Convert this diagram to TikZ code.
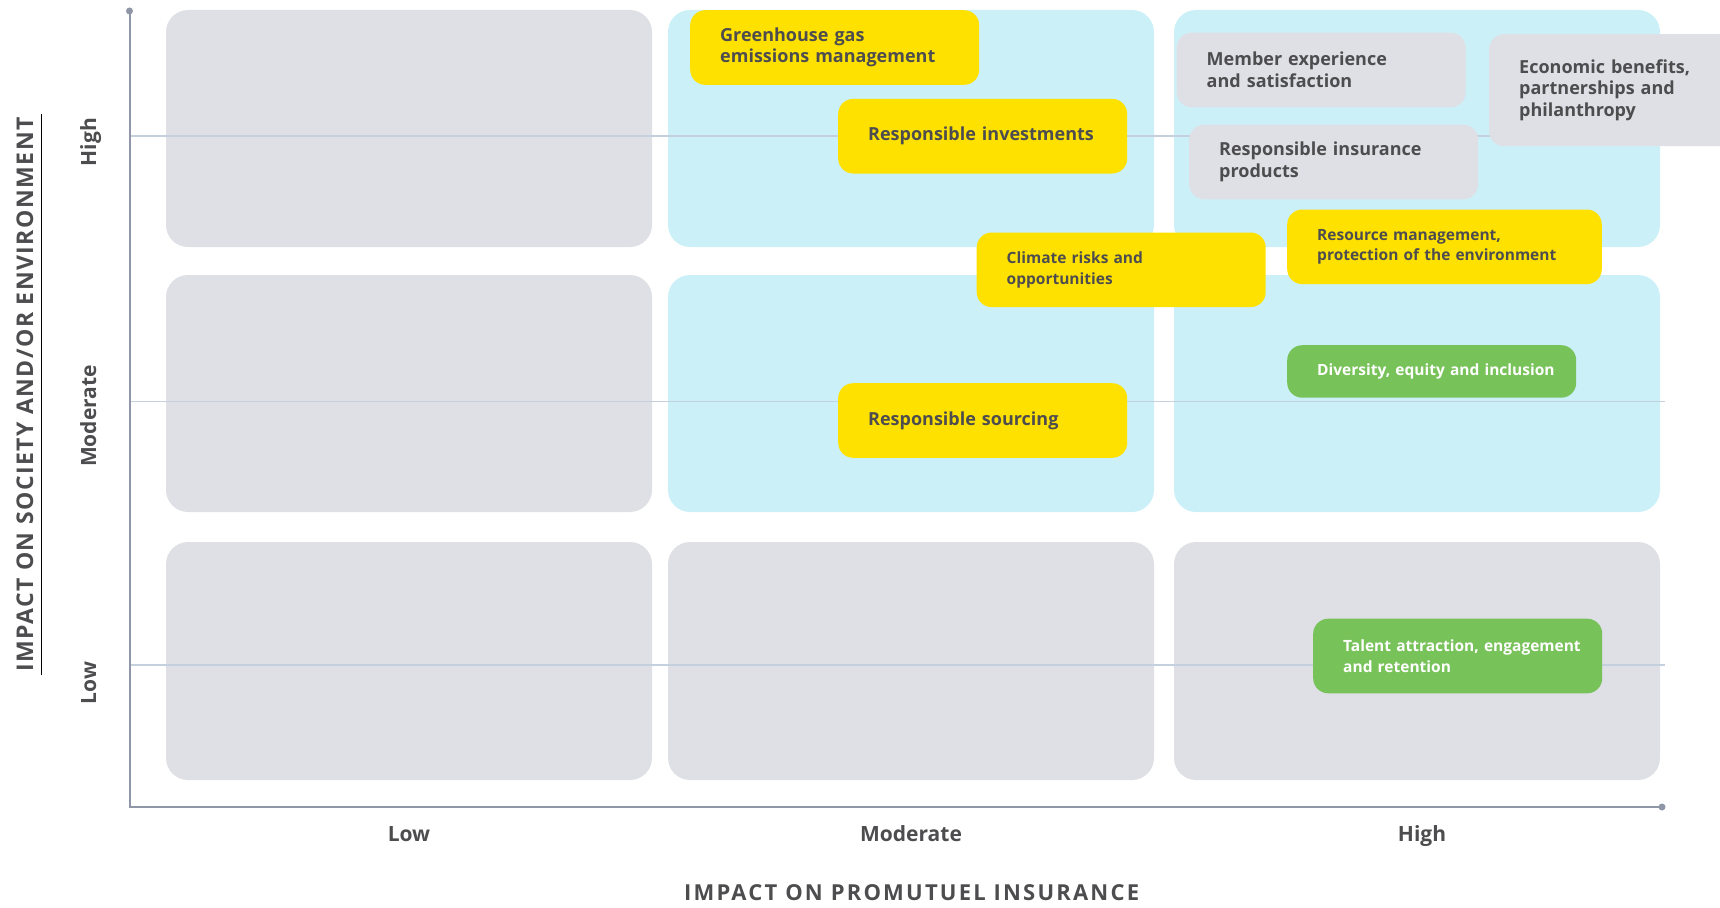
\documentclass[tikz,border=0pt]{standalone}
\usepackage{fontspec}
\setmainfont{Open Sans}
\newfontfamily\xtitlefont[LetterSpace=10]{Open Sans}
\newfontfamily\ytitlefont[LetterSpace=6.5]{Open Sans}
\usetikzlibrary{positioning}

\definecolor{cellgray}{RGB}{223,224,229}
\definecolor{cellcyan}{RGB}{204,240,248}
\definecolor{tagyellow}{RGB}{255,225,0}
\definecolor{taggreen}{RGB}{120,194,90}
\definecolor{txtgray}{RGB}{77,77,79}
\definecolor{axisgray}{RGB}{142,150,168}
\definecolor{gridblue}{RGB}{197,208,222}

\begin{document}
\begin{tikzpicture}[x=1pt, y=-1pt,
	cell/.style={rounded corners=22},
	tag/.style={rounded corners=15, inner xsep=30, inner ysep=0, minimum height=74.6, text width=229, align=left, anchor=north west, text=txtgray, font=\fontsize{18}{21.5}\selectfont\bfseries},
	small/.style={font=\fontsize{15.5}{20.8}\selectfont\bfseries},
	ylw/.style={tag, fill=tagyellow},
	gry/.style={tag, fill=cellgray},
	grn/.style={tag, fill=taggreen, text=white},
	tick/.style={anchor=base, text=txtgray, font=\fontsize{21}{24}\selectfont\bfseries},
	axtitle/.style={anchor=base, text=txtgray}]
	\clip (0,0) rectangle (1720,907);

	% celle
	\fill[cell, cellgray] (166,10) rectangle ++(486,237);
	\fill[cell, cellcyan] (668,10) rectangle ++(486,237);
	\fill[cell, cellcyan] (1174,10) rectangle ++(486,237);
	\fill[cell, cellgray] (166,275) rectangle ++(486,237);
	\fill[cell, cellcyan] (668,275) rectangle ++(486,237);
	\fill[cell, cellcyan] (1174,275) rectangle ++(486,237);
	\fill[cell, cellgray] (166,542) rectangle ++(486,238);
	\fill[cell, cellgray] (668,542) rectangle ++(486,238);
	\fill[cell, cellgray] (1174,542) rectangle ++(486,238);

	% linee guida
	\draw[gridblue, line width=1.4] (130,136) -- (1665,136);
	\draw[gridblue, line width=1.4] (130,401.5) -- (1665,401.5);
	\draw[gridblue, line width=1.4] (130,665) -- (1665,665);

	% assi
	\coordinate (ytop) at (129.5,11);
	\coordinate (orig) at (129.5,807);
	\coordinate (xend) at (1662,807);
	\draw[axisgray, line width=2] (ytop) -- (orig) -- (xend);
	\fill[axisgray] (ytop) circle (3.5);
	\fill[axisgray] (xend) circle (3.5);

	% temi
	\node[ylw] (ghg) at (690,10) {Greenhouse gas\\emissions management};
	\node[ylw] (invest) at (838,98.7) {Responsible investments};
	\node[ylw, small] (climate) at (976.5,232.3) {Climate risks and\\opportunities};
	\node[ylw, small, text width=254.6] (resource) at (1287,209.3) {Resource management,\\protection of the environment};
	\node[gry] (member) at (1176.5,32.5) {Member experience\\and satisfaction};
	\node[gry, minimum height=112] (econ) at (1489,34) {Economic benefits,\\partnerships and\\philanthropy};
	\node[gry] (insur) at (1189,124.5) {Responsible insurance\\products};
	\node[grn, small, minimum height=52.5] (divers) at (1287,345) {\mbox{Diversity, equity and inclusion}};
	\node[ylw] (sourcing) at (838,383) {Responsible sourcing};
	\node[grn, small] (talent) at (1313,618.5) {\mbox{Talent attraction, engagement}\\and retention};

	% etichette
	\node[tick] (xlow) at (409,841) {Low};
	\node[tick] (xmod) at (911,841) {Moderate};
	\node[tick] (xhigh) at (1422,841) {High};
	\node[tick, rotate=90] (yhigh) at (96,142) {High};
	\node[tick, rotate=90] (ymod) at (96,416) {Moderate};
	\node[tick, rotate=90] (ylow) at (96,683) {Low};

	\node[axtitle, font=\fontsize{22}{24}\xtitlefont\bfseries] (xtitle) at (911.6,900) {IMPACT ON PROMUTUEL INSURANCE};
	\node[axtitle, rotate=90, font=\fontsize{23}{24}\ytitlefont\bfseries] (ytitle) at (33,394.5) {IMPACT ON SOCIETY AND/OR ENVIRONMENT};
	\draw[black, line width=1.4] ([xshift=5]ytitle.south west) -- ([xshift=5]ytitle.south east); % sottolineatura
\end{tikzpicture}
\end{document}
